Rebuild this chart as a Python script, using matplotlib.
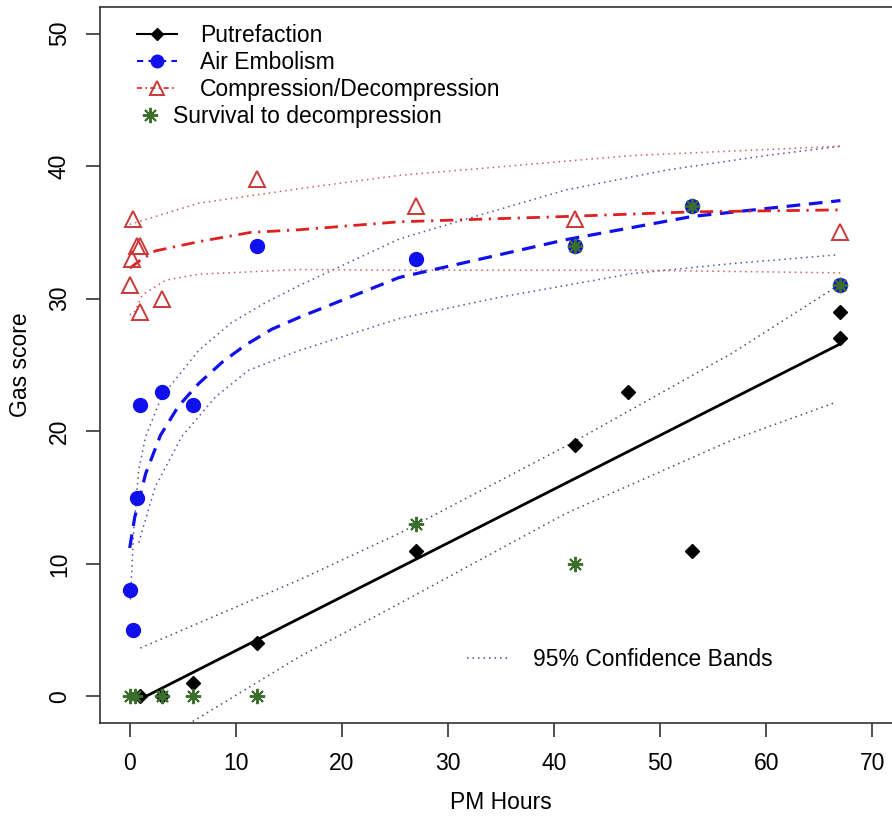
import matplotlib.pyplot as plt
from matplotlib.lines import Line2D

plt.rcParams['font.family'] = ['Liberation Sans', 'DejaVu Sans']

# observed points
putref_x = [1, 3, 6, 12, 27, 42, 47, 53, 67, 67]
putref_y = [0, 0, 1, 4, 11, 19, 23, 11, 27, 29]

embol_x = [0, 0.3, 0.7, 1, 3, 6, 12, 27, 42, 53, 67]
embol_y = [8, 5, 15, 22, 23, 22, 34, 33, 34, 37, 31]

comp_x = [0, 0.2, 0.3, 0.7, 1, 1, 3, 12, 27, 42, 67]
comp_y = [31, 33, 36, 34, 34, 29, 30, 39, 37, 36, 35]

surv_x = [0, 0.5, 3, 6, 12, 27, 42, 42, 53, 67]
surv_y = [0, 0, 0, 0, 0, 13, 10, 34, 37, 31]

# fitted curves and 95% bands
putref_fit_x = [1, 67]
putref_fit_y = [-0.2, 26.6]
putref_up_x = [1, 16, 25.4, 41.4, 56.8, 66.6]
putref_up_y = [3.65, 8.8, 12.3, 19.0, 25.9, 30.9]
putref_lo_x = [5.5, 16, 25.4, 41.1, 56.8, 66.6]
putref_lo_y = [-2.1, 3.0, 7.0, 13.8, 19.35, 22.2]

embol_fit_x = [0, 0.47, 1.5, 2.9, 4.6, 6.5, 8.7, 10.9, 13.4, 16, 25.4, 41.1, 53, 67]
embol_fit_y = [11.2, 13.5, 16.8, 19.7, 21.9, 23.6, 25.2, 26.5, 27.7, 28.6, 31.6, 34.45, 36.2, 37.4]
embol_up_x = [0.07, 0.38, 0.85, 1.5, 3, 6.5, 9.6, 12.8, 16, 25.4, 31.7, 41.1, 50.6, 60, 67]
embol_up_y = [7.3, 12.6, 17.1, 19.6, 22.6, 26.1, 28.2, 29.7, 31.0, 34.5, 36.0, 38.2, 39.7, 40.8, 41.5]
embol_lo_x = [0.85, 2.4, 4.9, 8.1, 11.2, 16, 25.4, 34.8, 47.4, 56.8, 66.6]
embol_lo_y = [11.6, 15.8, 19.6, 22.6, 24.6, 26.1, 28.5, 30.1, 31.9, 32.65, 33.3]

comp_fit_x = [0, 1, 2.4, 6.5, 11.4, 16, 25.4, 41.1, 53, 67]
comp_fit_y = [32.3, 32.9, 33.6, 34.3, 35.0, 35.2, 35.8, 36.2, 36.55, 36.7]
comp_up_x = [0, 1.2, 6.5, 16, 25.4, 47.4, 67]
comp_up_y = [35.6, 35.9, 37.2, 38.3, 39.3, 40.8, 41.5]
comp_lo_x = [0, 0.4, 1.2, 3.4, 6.5, 16, 25.4, 47.4, 67]
comp_lo_y = [28.8, 28.9, 30.3, 31.4, 31.85, 32.2, 32.15, 32.15, 31.95]

x_ticks = [0, 10, 20, 30, 40, 50, 60, 70]
y_ticks = [0, 10, 20, 30, 40, 50]

col_black = 'black'
col_blue = '#1010ee'
col_red = '#dd2020'
col_tri = '#c83a3a'
col_green = '#3b6e2a'
dot = (1, 2.6)

fig = plt.figure(figsize=(8.92, 8.18), dpi=100)
ax = fig.add_axes([100 / 892, 95 / 818, 802 / 892, 716 / 818])

# confidence bands
ax.plot(putref_up_x, putref_up_y, color='#4a4a66', lw=1.1, dashes=dot)
ax.plot(putref_lo_x, putref_lo_y, color='#4a4a66', lw=1.1, dashes=dot)
ax.plot(embol_up_x, embol_up_y, color='#5050b0', lw=1.1, dashes=dot)
ax.plot(embol_lo_x, embol_lo_y, color='#5050b0', lw=1.1, dashes=dot)
ax.plot(comp_up_x, comp_up_y, color='#c86060', lw=1.1, dashes=dot)
ax.plot(comp_lo_x, comp_lo_y, color='#c86060', lw=1.1, dashes=dot)

# fits
ax.plot(putref_fit_x, putref_fit_y, color=col_black, lw=2.0)
ax.plot(embol_fit_x, embol_fit_y, color=col_blue, lw=2.3, dashes=(4.3, 2.7))
ax.plot(comp_fit_x, comp_fit_y, color=col_red, lw=2.0, dashes=(4.8, 2.4, 0.8, 2.4))

# points
ax.plot(putref_x, putref_y, 'D', color=col_black, ms=7, ls='none')
ax.plot(embol_x, embol_y, 'o', color=col_blue, ms=10, ls='none')
ax.plot(comp_x, comp_y, '^', mfc='none', mec=col_tri, ms=11, mew=1.4, ls='none')
ax.plot(surv_x, surv_y, marker=(8, 2, 0), color=col_green, ms=11, mew=1.4, ls='none')

ax.set_xlim(-2.8, 72.8)
ax.set_ylim(-2, 52)
ax.set_xticks(x_ticks)
ax.set_yticks(y_ticks)
ax.tick_params(length=10, width=1.2, color='#333333', labelsize=16.5, pad=11)
for lab in ax.get_yticklabels():
    lab.set_rotation(90)
    lab.set_va('center')
for s in ax.spines.values():
    s.set_linewidth(1.2)
    s.set_color('#333333')

ax.set_xlabel('PM Hours', fontsize=16.5)
ax.set_ylabel('Gas score', fontsize=16.5)
ax.xaxis.set_label_coords(0.5, -0.095)
ax.yaxis.set_label_coords(-0.085, 0.5)

# legends
h1 = [
    Line2D([], [], color=col_black, lw=1.5, marker='D', ms=6),
    Line2D([], [], color=col_blue, lw=1.5, dashes=(3, 2.5), marker='o', ms=9),
    Line2D([], [], color=col_red, lw=1.2, dashes=(3, 2, 1, 2), marker='^', mfc='none',
           mec=col_tri, ms=10, mew=1.4),
]
leg1 = ax.legend(h1, ['Putrefaction', 'Air Embolism', 'Compression/Decompression'],
                 loc='upper left', bbox_to_anchor=(137 / 892, 1 - 24 / 818),
                 bbox_transform=fig.transFigure, frameon=False, fontsize=16.5,
                 handlelength=1.75, handletextpad=1.0, borderpad=0, borderaxespad=0,
                 labelspacing=0.17)
ax.add_artist(leg1)

h2 = [Line2D([], [], color=col_green, ls='none', marker=(8, 2, 0), ms=11, mew=1.4)]
leg2 = ax.legend(h2, ['Survival to decompression'], loc='upper left',
                 bbox_to_anchor=(143 / 892, 1 - 105 / 818), bbox_transform=fig.transFigure,
                 frameon=False, fontsize=16.5, handlelength=0.6, handletextpad=0.7,
                 borderpad=0, borderaxespad=0)
ax.add_artist(leg2)

h3 = [Line2D([], [], color='#4a4a80', lw=1.1, dashes=dot)]
ax.legend(h3, ['95% Confidence Bands'], loc='upper left',
          bbox_to_anchor=(467 / 892, 1 - 648 / 818), bbox_transform=fig.transFigure,
          frameon=False, fontsize=16.5, handlelength=1.9, handletextpad=0.96,
          borderpad=0, borderaxespad=0)

fig.savefig('out.png', dpi=100)
